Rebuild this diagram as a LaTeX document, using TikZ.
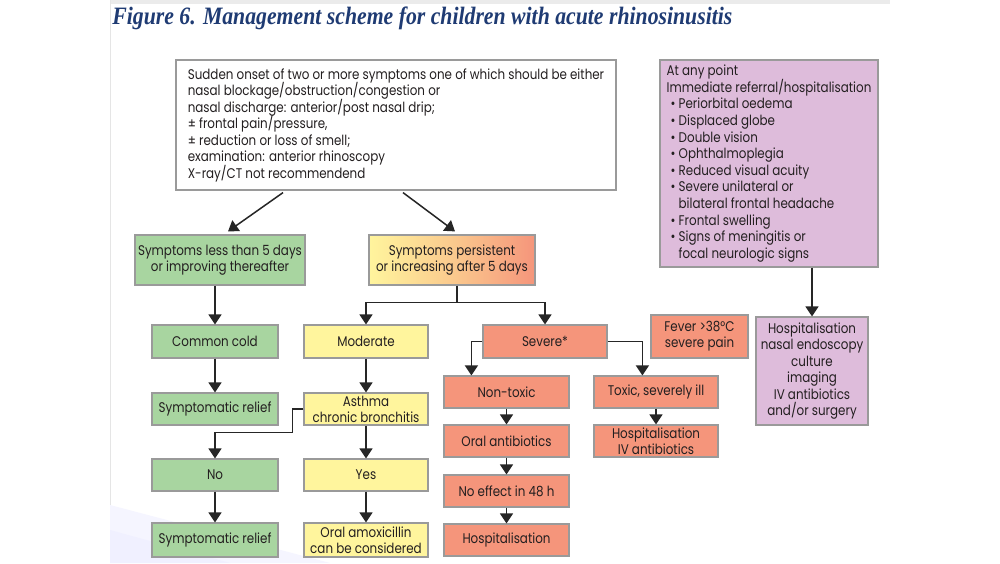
\documentclass[tikz,border=0pt]{standalone}
\usepackage{fontspec}
\setmainfont{Poppins}[FakeStretch=0.85]
\newfontfamily\titlefont{Liberation Serif}[FakeStretch=0.87]
\usetikzlibrary{arrows.meta,calc}
\definecolor{gfill}{HTML}{A8D5A0}
\definecolor{yfill}{HTML}{FFF59D}
\definecolor{sfill}{HTML}{F5957B}
\definecolor{pfill}{HTML}{DEBCDB}
\definecolor{bord}{HTML}{9A9A9A}
\definecolor{txt}{HTML}{231F20}
\definecolor{ttl}{HTML}{1F3B73}
\newcommand{\nolsk}{\lineskiplimit=-20pt\lineskip=0pt}
\tikzset{
  box/.style={draw=bord, line width=0.6pt, text=txt, align=center, inner sep=1pt,
    font=\fontsize{7}{8}\selectfont\nolsk},
  arr/.style={draw=black!85, line width=0.75pt, -{Triangle[width=6.5pt,length=5pt]}},
  ln/.style={draw=black!85, line width=0.75pt},
}
\begin{document}
\begin{tikzpicture}[x=0.5pt,y=-0.5pt]
\useasboundingbox (0,0) rectangle (1000,563);
\fill[white] (0,0) rectangle (1000,563);
% page background details
\fill[black!8] (110,0) rectangle (890,4);
\draw[black!10, line width=0.4pt] (110,0) -- (110,563);
\fill[blue!4] (110,505) -- (330,563) -- (110,563) -- cycle;
\fill[blue!6] (110,530) -- (230,563) -- (110,563) -- cycle;
% title
\node[anchor=west, inner sep=0pt, text=ttl, font=\titlefont\bfseries\itshape\fontsize{12.5}{14}\selectfont] (title) at (112,18) {Figure 6. Management scheme for children with acute rhinosinusitis};
% boxes
\node[box, fill=white, minimum width=220pt, minimum height=65pt, align=left, font=\fontsize{7}{8.25}\selectfont\nolsk] (top) at (396,125) {Sudden onset of two or more symptoms one of which should be either\\nasal blockage/obstruction/congestion or\\nasal discharge: anterior/post nasal drip;\\± frontal pain/pressure,\\± reduction or loss of smell;\\examination: anterior rhinoscopy\\X-ray/CT not recommendend};
\node[box, fill=pfill, minimum width=109pt, minimum height=103.5pt, align=left, font=\fontsize{7}{8.3}\selectfont\nolsk] (p1) at (769,163.5) {At any point\\Immediate referral/hospitalisation\\
\hspace*{2pt}\textbullet\ Periorbital oedema\\
\hspace*{2pt}\textbullet\ Displaced globe\\
\hspace*{2pt}\textbullet\ Double vision\\
\hspace*{2pt}\textbullet\ Ophthalmoplegia\\
\hspace*{2pt}\textbullet\ Reduced visual acuity\\
\hspace*{2pt}\textbullet\ Severe unilateral or\\
\hspace*{6pt}bilateral frontal headache\\
\hspace*{2pt}\textbullet\ Frontal swelling\\
\hspace*{2pt}\textbullet\ Signs of meningitis or\\
\hspace*{6pt}focal neurologic signs};
\node[box, fill=pfill, minimum width=56pt, minimum height=54pt, font=\fontsize{7}{8.2}\selectfont\nolsk] (p2) at (812,371) {Hospitalisation\\nasal endoscopy\\culture\\imaging\\IV antibiotics\\and/or surgery};
\node[box, fill=gfill, minimum width=85pt, minimum height=25pt] (g1) at (220,260) {Symptoms less than 5 days\\or improving thereafter};
\node[box, left color=yfill, right color=sfill, middle color=yfill!55!sfill, minimum width=83pt, minimum height=25pt] (grad) at (452,260) {Symptoms persistent\\or increasing after 5 days};
\node[box, fill=gfill, minimum width=63pt, minimum height=16.5pt] (cold) at (215,341.5) {Common cold};
\node[box, fill=yfill, minimum width=62pt, minimum height=16.5pt] (mod) at (366,341.5) {Moderate};
\node[box, fill=sfill, minimum width=62pt, minimum height=16.5pt] (sev) at (545,341.5) {Severe*};
\node[box, fill=sfill, minimum width=48.5pt, minimum height=21.5pt] (fever) at (699.5,336.5) {Fever >38°C\\severe pain};
\node[box, fill=gfill, minimum width=63pt, minimum height=16pt] (rel1) at (215,409) {Symptomatic relief};
\node[box, fill=yfill, minimum width=62pt, minimum height=16pt] (asth) at (366,409) {Asthma\\chronic bronchitis};
\node[box, fill=sfill, minimum width=62.5pt, minimum height=16pt] (nontox) at (506.5,392) {Non-toxic};
\node[box, fill=sfill, minimum width=62pt, minimum height=16pt] (tox) at (656,392) {Toxic, severely ill};
\node[box, fill=sfill, minimum width=62.5pt, minimum height=16pt] (oral) at (506.5,441) {Oral antibiotics};
\node[box, fill=sfill, minimum width=62pt, minimum height=16pt] (hosiv) at (656,441) {Hospitalisation\\IV antibiotics};
\node[box, fill=gfill, minimum width=63pt, minimum height=16pt] (no) at (215,475) {No};
\node[box, fill=yfill, minimum width=62pt, minimum height=16pt] (yes) at (366,475) {Yes};
\node[box, fill=sfill, minimum width=62.5pt, minimum height=16pt] (noeff) at (506.5,491) {No effect in 48 h};
\node[box, fill=gfill, minimum width=63pt, minimum height=17pt] (rel2) at (215,540) {Symptomatic relief};
\node[box, fill=yfill, minimum width=62pt, minimum height=17pt] (amox) at (366,540) {Oral amoxicillin\\can be considered};
\node[box, fill=sfill, minimum width=62.5pt, minimum height=16pt] (hosp) at (506.5,540) {Hospitalisation};
% connectors
\draw[arr] ($(top.south)+(-113,2)$) -- ($(g1.north)+(8,-3)$);
\draw[arr] ($(top.south)+(7,2)$) -- ($(grad.north)+(3,-3)$);
\draw[arr] (g1.south -| cold.north) -- (cold.north);
\draw[ln] ($(grad.south)+(5,0)$) -- ++(0,17) coordinate (gj);
\draw[arr] ($(gj)+(0.75,0)$) -| (mod.north);
\draw[arr] ($(gj)+(-0.75,0)$) -| (sev.north);
\draw[arr] (cold) -- (rel1);
\draw[arr] (mod) -- (asth);
\draw[arr] (asth.west) -- ++(-11,0) |- ($(no.north)+(0,-26)$) -- (no.north);
\draw[arr] (asth) -- (yes);
\draw[arr] (no) -- (rel2);
\draw[arr] (yes) -- (amox);
\draw[arr] (sev.west) -| ($(nontox.north west)+(28,0)$);
\draw[arr] (sev.east) -| ($(tox.north west)+(49,0)$);
\draw[arr] (nontox) -- (oral);
\draw[arr] (tox) -- (hosiv);
\draw[arr] (oral) -- (noeff);
\draw[arr] (noeff) -- (hosp);
\draw[arr] (p1.south -| p2.north) -- (p2.north);
\end{tikzpicture}
\end{document}
